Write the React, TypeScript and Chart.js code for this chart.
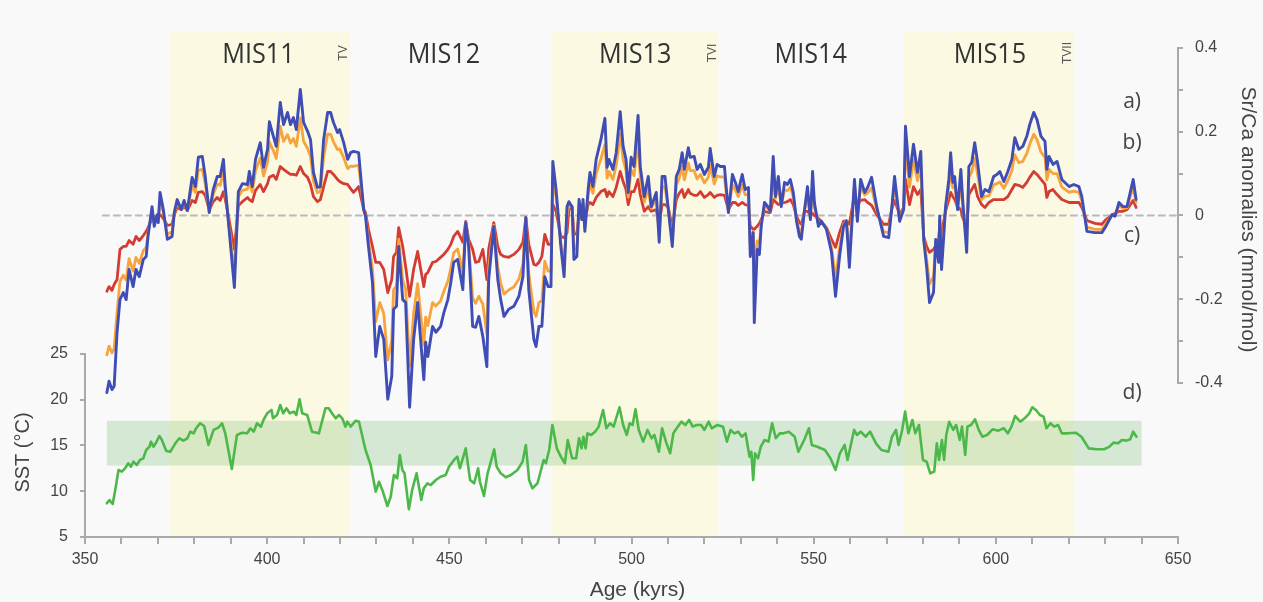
import { useEffect, useRef } from "react";
import { Chart, registerables } from "chart.js";

Chart.register(...registerables);

// ---- Sr/Ca anomaly records (mmol/mol) on a shared age axis (kyr) ----
const ageSrCa = [
  356.0, 356.6, 357.4, 358.0, 358.8, 359.6, 360.5, 361.3, 362.1, 363.2,
  364.0, 364.9, 366.0, 366.8, 367.3, 368.4, 369.0, 369.8, 370.1, 370.6,
  371.5, 372.6, 373.9, 374.5, 375.3, 376.4, 377.2, 378.1, 379.4, 380.3,
  381.1, 382.2, 383.0, 384.1, 385.2, 386.3, 387.1, 388.0, 388.5, 389.3,
  391.0, 392.1, 393.2, 394.6, 395.1, 395.9, 396.8, 398.1, 399.0, 400.1,
  400.6, 401.7, 402.5, 403.6, 404.5, 405.6, 406.4, 407.2, 408.0, 409.1,
  410.0, 411.1, 411.9, 412.7, 413.8, 414.6, 415.5, 416.6, 417.4, 418.2,
  419.3, 419.9, 421.0, 422.1, 422.9, 423.7, 425.1, 426.5,
  427.0, 427.8, 428.9, 429.8, 430.9, 432.0, 433.1, 434.2, 434.7, 435.5,
  436.1, 437.2, 438.0, 439.1, 440.2, 441.3, 443.0, 443.5, 444.1, 445.4,
  446.3, 447.6, 448.5, 449.6, 450.4, 451.2, 452.3, 453.7, 454.5, 455.3,
  456.4, 457.2, 458.1, 459.2, 460.3, 460.8, 462.2, 463.3, 464.1, 465.0,
  466.3, 467.7, 469.1, 470.2, 471.0, 471.8, 473.2, 473.8, 474.6, 475.4,
  476.2, 477.1, 477.9,
  478.4, 479.3, 480.6, 481.5, 482.3, 482.8, 483.7, 484.2, 485.0, 485.6,
  486.4, 486.7, 487.2, 488.1, 488.6, 489.4, 490.3, 491.6, 492.7, 493.3,
  493.8, 494.9, 495.8, 496.9, 497.7, 498.5, 499.1, 499.9, 500.7, 501.8,
  502.4, 503.5, 504.6, 505.4, 506.8, 507.6, 508.4, 509.2, 510.1, 511.2,
  512.3, 513.1, 513.9, 514.5, 515.6, 516.1, 517.2, 518.0, 518.9, 520.0,
  521.1, 521.6, 522.7, 523.5, 524.4, 525.5, 526.6, 527.7, 528.5, 529.3,
  530.4, 531.2, 532.1,
  532.6, 533.4, 533.7, 534.5, 535.1, 535.6, 536.5, 537.6, 538.1, 538.9,
  539.5, 540.3, 541.1, 542.0, 542.8, 543.6, 544.4, 545.3, 546.1, 546.6,
  547.5, 548.3, 549.1, 549.7, 550.2, 551.3, 552.1, 553.5, 554.9, 556.0,
  557.1, 558.2, 559.0, 559.8, 561.2, 562.0, 562.9, 564.0, 564.8, 565.9,
  567.3, 569.2, 570.6, 571.4, 572.2, 573.6, 574.7, 575.2, 576.3, 577.4,
  578.5, 579.4, 580.2, 581.0, 581.8, 582.9, 583.5, 584.3, 584.6, 585.1,
  585.7, 586.2, 587.1, 587.6, 588.2, 588.7, 589.5, 590.4, 590.9, 592.0,
  592.6, 593.4, 594.2, 595.0, 596.1, 597.0, 598.1, 599.4, 600.3, 601.1,
  602.2, 603.3, 604.4, 605.2, 606.3, 607.4, 608.5, 609.3, 610.4, 611.3,
  612.4, 613.5, 614.0, 614.6, 615.7, 616.8, 618.1, 620.1, 621.4, 622.8,
  623.6, 625.0, 627.2, 629.1, 630.2, 631.9, 632.7, 633.8, 634.9, 636.0,
  637.7, 638.5,
];

// a) blue record
const srcaA = [
  -0.423, -0.396, -0.416, -0.408, -0.279, -0.201, -0.184, -0.201, -0.129, -0.170,
  -0.129, -0.146, -0.105, -0.098, -0.050, 0.021, -0.026, 0.002, -0.017, 0.055,
  0.014, -0.057, -0.050, 0.007, 0.038, 0.014, 0.036, 0.012, 0.091, 0.069,
  0.139, 0.141, 0.093, 0.007, 0.062, 0.093, 0.093, 0.134, 0.069, -0.010,
  -0.172, 0.057, 0.076, 0.074, 0.105, 0.069, 0.134, 0.174, 0.115, 0.158,
  0.224, 0.189, 0.165, 0.270, 0.217, 0.246, 0.217, 0.234, 0.205, 0.301,
  0.222, 0.201, 0.181, 0.103, 0.067, 0.069, 0.181, 0.246, 0.246, 0.222,
  0.198, 0.205, 0.174, 0.134, 0.150, 0.153, 0.150, 0.014,
  -0.002, -0.074, -0.160, -0.337, -0.265, -0.296, -0.439, -0.384, -0.224, -0.217,
  -0.074, -0.201, -0.208, -0.458, -0.296, -0.208, -0.392, -0.303, -0.337, -0.265,
  -0.279, -0.265, -0.232, -0.201, -0.160, -0.112, -0.105, -0.177, -0.017, -0.074,
  -0.265, -0.267, -0.241, -0.289, -0.361, -0.153, -0.026, -0.153, -0.201, -0.241,
  -0.224, -0.217, -0.193, -0.146, -0.005, -0.177, -0.296, -0.313, -0.265, -0.265,
  -0.146, -0.170, -0.170,
  0.129, 0.062, -0.074, -0.146, 0.021, 0.033, 0.021, -0.105, -0.098, 0.038,
  -0.010, 0.038, -0.038, 0.062, 0.103, 0.069, 0.134, 0.181, 0.232, 0.115,
  0.134, 0.110, 0.150, 0.248, 0.165, 0.134, 0.055, 0.139, 0.117, 0.239,
  0.117, 0.045, 0.093, 0.021, 0.055, -0.064, 0.093, 0.093, 0.014, -0.074,
  0.093, 0.110, 0.150, 0.110, 0.162, 0.139, 0.141, 0.110, 0.122, 0.098,
  0.115, 0.160, 0.093, 0.122, 0.117, 0.117, 0.007, 0.098, 0.079, 0.057,
  0.098, 0.062, 0.067,
  -0.098, -0.041, -0.256, -0.081, -0.093, -0.026, 0.031, 0.019, 0.010, 0.141,
  0.045, 0.093, 0.021, 0.079, 0.074, 0.086, 0.055, -0.014, -0.050, -0.057,
  0.014, 0.069, -0.010, 0.105, 0.031, -0.026, -0.014, -0.033, -0.088, -0.193,
  -0.098, -0.026, -0.014, -0.124, 0.086, -0.014, 0.086, 0.055, 0.067, 0.091,
  0.021, -0.050, -0.053, 0.014, 0.093, -0.014, 0.014, 0.213, 0.093, 0.170,
  0.103, 0.153, -0.057, -0.122, -0.208, -0.184, -0.057, -0.112, -0.002, -0.129,
  -0.050, 0.021, 0.086, 0.150, 0.079, 0.093, 0.014, 0.110, 0.038, -0.088,
  0.117, 0.127, 0.174, 0.127, 0.045, 0.062, 0.057, 0.093, 0.098, 0.105,
  0.081, 0.105, 0.134, 0.186, 0.158, 0.165, 0.189, 0.217, 0.246, 0.229,
  0.189, 0.177, 0.110, 0.141, 0.122, 0.129, 0.086, 0.069, 0.074, 0.069,
  0.045, -0.038, -0.041, -0.041, -0.026, 0.002, -0.002, 0.031, 0.021, 0.021,
  0.086, 0.038,
];

// b) orange record
const srcaB = [
  -0.333, -0.312, -0.328, -0.318, -0.232, -0.157, -0.143, -0.154, -0.103, -0.133,
  -0.100, -0.114, -0.084, -0.076, -0.042, 0.011, -0.017, 0.000, -0.011, 0.035,
  0.007, -0.045, -0.039, 0.005, 0.031, 0.014, 0.031, 0.012, 0.071, 0.055,
  0.108, 0.110, 0.076, 0.010, 0.051, 0.075, 0.072, 0.106, 0.058, -0.005,
  -0.138, 0.045, 0.060, 0.063, 0.080, 0.056, 0.107, 0.137, 0.094, 0.128,
  0.175, 0.155, 0.136, 0.213, 0.177, 0.193, 0.173, 0.184, 0.165, 0.233,
  0.177, 0.160, 0.141, 0.082, 0.054, 0.058, 0.140, 0.194, 0.194, 0.176,
  0.157, 0.159, 0.138, 0.112, 0.118, 0.117, 0.120, 0.014,
  0.001, -0.059, -0.128, -0.254, -0.208, -0.234, -0.345, -0.298, -0.177, -0.169,
  -0.057, -0.154, -0.176, -0.360, -0.234, -0.163, -0.310, -0.243, -0.263, -0.208,
  -0.216, -0.204, -0.181, -0.157, -0.126, -0.089, -0.080, -0.135, -0.016, -0.068,
  -0.197, -0.210, -0.193, -0.212, -0.284, -0.126, -0.023, -0.124, -0.161, -0.188,
  -0.178, -0.171, -0.152, -0.116, -0.005, -0.137, -0.230, -0.241, -0.208, -0.203,
  -0.109, -0.133, -0.133,
  0.091, 0.043, -0.065, -0.112, -0.002, 0.026, 0.020, -0.083, -0.078, 0.025,
  -0.010, 0.029, -0.029, 0.049, 0.076, 0.053, 0.100, 0.135, 0.169, 0.089,
  0.105, 0.086, 0.119, 0.195, 0.134, 0.107, 0.044, 0.109, 0.095, 0.182,
  0.092, 0.032, 0.066, 0.017, 0.040, -0.048, 0.068, 0.068, 0.016, -0.057,
  0.073, 0.089, 0.117, 0.085, 0.125, 0.107, 0.107, 0.087, 0.098, 0.078,
  0.091, 0.121, 0.075, 0.095, 0.092, 0.092, 0.010, 0.073, 0.061, 0.045,
  0.073, 0.049, 0.051,
  -0.071, -0.038, -0.120, -0.061, -0.066, -0.020, 0.023, 0.015, 0.009, 0.103,
  0.041, 0.068, 0.024, 0.061, 0.059, 0.068, 0.044, -0.010, -0.038, -0.044,
  0.013, 0.047, -0.005, 0.068, 0.020, -0.019, -0.014, -0.031, -0.077, -0.150,
  -0.077, -0.022, -0.013, -0.086, 0.073, 0.001, 0.068, 0.049, 0.054, 0.066,
  0.014, -0.039, -0.041, 0.014, 0.072, -0.008, 0.016, 0.166, 0.068, 0.133,
  0.083, 0.119, -0.055, -0.104, -0.164, -0.146, -0.063, -0.092, -0.012, -0.098,
  -0.037, 0.017, 0.068, 0.115, 0.066, 0.073, 0.017, 0.074, 0.022, -0.065,
  0.092, 0.103, 0.137, 0.097, 0.038, 0.046, 0.047, 0.073, 0.076, 0.080,
  0.065, 0.083, 0.107, 0.145, 0.126, 0.129, 0.148, 0.170, 0.194, 0.181,
  0.151, 0.139, 0.085, 0.110, 0.100, 0.100, 0.068, 0.055, 0.058, 0.055,
  0.035, -0.028, -0.033, -0.033, -0.020, 0.001, 0.000, 0.023, 0.017, 0.018,
  0.068, 0.031,
];

// c) red record
const srcaC = [
  -0.181, -0.170, -0.179, -0.165, -0.153, -0.081, -0.074, -0.074, -0.060, -0.069,
  -0.050, -0.060, -0.048, -0.038, -0.029, -0.007, -0.002, -0.005, -0.002, 0.002,
  -0.007, -0.024, -0.021, 0.002, 0.019, 0.014, 0.021, 0.012, 0.036, 0.031,
  0.055, 0.057, 0.048, 0.014, 0.033, 0.043, 0.036, 0.057, 0.038, 0.002,
  -0.081, 0.024, 0.033, 0.043, 0.038, 0.033, 0.060, 0.074, 0.057, 0.076,
  0.091, 0.096, 0.086, 0.117, 0.110, 0.103, 0.098, 0.098, 0.096, 0.117,
  0.100, 0.091, 0.074, 0.045, 0.033, 0.038, 0.069, 0.105, 0.105, 0.098,
  0.086, 0.081, 0.076, 0.074, 0.064, 0.055, 0.069, 0.014,
  0.007, -0.033, -0.074, -0.112, -0.112, -0.129, -0.184, -0.153, -0.098, -0.088,
  -0.029, -0.074, -0.122, -0.193, -0.129, -0.086, -0.170, -0.141, -0.136, -0.112,
  -0.110, -0.100, -0.093, -0.081, -0.069, -0.050, -0.038, -0.064, -0.014, -0.057,
  -0.081, -0.112, -0.110, -0.081, -0.153, -0.081, -0.017, -0.074, -0.093, -0.098,
  -0.100, -0.093, -0.081, -0.064, -0.005, -0.069, -0.117, -0.119, -0.112, -0.098,
  -0.045, -0.069, -0.069,
  0.026, 0.010, -0.050, -0.053, -0.041, 0.014, 0.019, -0.045, -0.043, 0.002,
  -0.010, 0.014, -0.014, 0.026, 0.031, 0.026, 0.043, 0.057, 0.062, 0.045,
  0.057, 0.045, 0.067, 0.105, 0.081, 0.062, 0.026, 0.057, 0.057, 0.086,
  0.050, 0.010, 0.021, 0.010, 0.014, -0.021, 0.026, 0.026, 0.019, -0.029,
  0.038, 0.053, 0.062, 0.043, 0.062, 0.053, 0.048, 0.048, 0.057, 0.043,
  0.050, 0.055, 0.043, 0.048, 0.050, 0.048, 0.014, 0.031, 0.031, 0.024,
  0.031, 0.026, 0.024,
  -0.026, -0.033, -0.033, -0.026, -0.019, -0.010, 0.010, 0.007, 0.007, 0.038,
  0.033, 0.026, 0.029, 0.031, 0.033, 0.038, 0.026, -0.002, -0.017, -0.021,
  0.010, 0.010, 0.002, 0.005, 0.000, -0.007, -0.014, -0.029, -0.057, -0.076,
  -0.041, -0.014, -0.012, -0.021, 0.050, 0.026, 0.036, 0.038, 0.031, 0.024,
  0.002, -0.021, -0.021, 0.014, 0.036, 0.002, 0.019, 0.086, 0.026, 0.069,
  0.050, 0.062, -0.050, -0.074, -0.088, -0.081, -0.072, -0.057, -0.029, -0.045,
  -0.014, 0.010, 0.038, 0.055, 0.045, 0.038, 0.021, 0.014, -0.005, -0.026,
  0.050, 0.062, 0.074, 0.045, 0.026, 0.019, 0.031, 0.038, 0.038, 0.038,
  0.038, 0.045, 0.062, 0.074, 0.072, 0.067, 0.079, 0.091, 0.105, 0.098,
  0.086, 0.074, 0.043, 0.057, 0.062, 0.050, 0.038, 0.031, 0.031, 0.031,
  0.019, -0.012, -0.019, -0.021, -0.010, 0.000, 0.005, 0.010, 0.010, 0.014,
  0.036, 0.019,
];

// ---- d) sea surface temperature record (°C) ----
const ageSst = [
  356.0, 356.7, 357.6, 358.3, 359.2, 360.1, 361.0, 361.9, 362.6, 363.3,
  364.2, 365.1, 366.0, 366.8, 367.7, 368.1, 368.8, 369.4, 370.4, 371.1,
  372.3, 373.4, 374.8, 375.9, 377.0, 378.1, 378.9, 379.8, 380.5, 381.6,
  382.7, 383.9, 385.3, 386.7, 387.6, 388.5, 390.3, 391.7, 393.1, 394.5,
  395.4, 396.3, 397.2, 398.3, 399.0, 400.0, 401.2, 401.6, 402.7, 403.6,
  404.4, 405.3, 406.2, 407.3, 408.0, 408.9, 409.6, 411.0, 412.3, 414.2,
  416.0, 416.9, 417.8, 418.8, 419.7, 420.6, 421.5, 422.0, 422.9, 424.3,
  425.2, 427.0, 428.4, 429.8, 430.7, 431.6, 433.0, 433.9, 434.8, 435.7,
  436.4, 437.1, 437.7, 438.9, 439.8, 441.0, 442.3, 443.0, 444.0, 444.9,
  446.3, 447.6, 449.0, 449.9, 451.3, 452.2, 452.9, 454.5, 455.7, 456.8,
  457.9, 458.4, 459.5, 460.5, 461.4, 462.3, 463.0, 464.1, 465.5, 466.9,
  468.7, 470.1, 471.0, 471.9, 472.8, 474.2, 475.9, 476.5, 477.4, 478.3,
  479.5, 480.6, 481.7, 482.5, 483.7, 484.8, 485.6, 486.3, 486.8, 487.4,
  487.9, 488.9, 490.0, 491.0, 492.2, 493.1, 494.1, 495.1, 496.7, 497.7,
  498.7, 499.5, 500.3, 501.1, 502.0, 503.2, 504.4, 505.5, 506.3, 507.5,
  508.4, 509.6, 510.6, 511.5, 512.7, 513.7, 514.8, 515.8, 516.8, 517.9,
  519.1, 520.0, 521.2, 522.0, 523.6, 525.1, 526.2, 527.2, 528.2, 529.3,
  530.3, 531.3, 532.4, 532.9, 533.4, 533.9, 534.7, 535.5, 536.5, 537.6,
  538.6, 539.6, 540.7, 541.7, 543.2, 544.8, 545.8, 547.4, 548.7, 549.5,
  551.0, 553.1, 554.6, 556.0, 557.2, 558.5, 559.3, 560.3, 561.1, 561.9,
  562.9, 564.3, 565.5, 567.1, 568.6, 570.5, 571.5, 572.6, 573.3, 574.3,
  575.1, 576.0, 577.1, 577.9, 578.9, 580.0, 581.0, 582.0, 583.1, 583.8,
  584.4, 585.2, 585.8, 586.4, 587.2, 588.3, 589.1, 590.1, 590.7, 591.6,
  592.2, 593.2, 594.3, 595.3, 596.3, 597.6, 599.1, 600.7, 602.2, 603.3,
  604.3, 605.3, 606.7, 607.9, 609.2, 610.0, 611.0, 612.1, 613.1, 613.9,
  615.0, 616.0, 617.1, 618.1, 619.8, 621.9, 623.5, 625.5, 627.6, 629.7,
  631.2, 632.3, 633.6, 634.6, 635.9, 636.9, 637.7, 638.6,
];

const sst = [
  8.68, 9.04, 8.61, 10.14, 12.32, 12.14, 12.51, 13.06, 12.68, 13.23,
  12.87, 13.42, 13.60, 14.51, 14.87, 15.42, 14.87, 15.24, 16.04, 15.60,
  14.40, 14.32, 15.24, 15.79, 15.53, 15.79, 16.51, 16.33, 16.88, 17.43,
  17.13, 15.06, 16.70, 16.99, 17.43, 16.33, 12.43, 16.15, 16.40, 16.33,
  16.88, 16.51, 17.43, 17.06, 17.79, 18.52, 18.88, 17.97, 18.33, 19.43,
  18.52, 19.07, 18.52, 18.70, 18.33, 20.05, 18.52, 18.33, 16.51, 16.33,
  19.07, 19.07, 18.52, 17.97, 18.33, 17.97, 17.06, 17.60, 17.06, 17.71,
  17.60, 14.51, 12.87, 9.95, 11.04, 10.14, 8.39, 9.40, 11.78, 11.42,
  13.96, 12.32, 11.96, 8.03, 10.14, 11.96, 9.04, 10.32, 10.87, 10.68,
  11.23, 11.59, 11.78, 12.68, 13.42, 13.78, 12.51, 14.69, 11.23, 10.87,
  12.51, 11.04, 9.48, 11.96, 13.23, 14.59, 12.68, 11.96, 11.53, 11.78,
  12.32, 13.23, 15.06, 11.23, 10.32, 10.87, 13.42, 13.06, 14.51, 17.24,
  14.69, 13.78, 13.06, 15.60, 13.60, 13.60, 15.79, 14.69, 15.96, 14.69,
  16.33, 16.15, 16.51, 17.06, 18.88, 16.88, 17.43, 17.06, 19.18, 17.24,
  16.15, 17.43, 17.24, 18.96, 16.70, 15.42, 16.70, 15.79, 16.15, 14.32,
  16.88, 15.24, 14.15, 16.33, 17.06, 17.60, 17.24, 17.79, 17.06, 17.24,
  17.24, 16.70, 17.60, 16.88, 17.24, 17.06, 15.42, 16.70, 16.33, 16.51,
  15.96, 16.33, 13.78, 14.32, 11.23, 14.15, 13.60, 14.87, 15.60, 15.42,
  17.43, 15.79, 16.33, 16.33, 16.51, 15.96, 14.32, 15.60, 16.88, 15.06,
  14.87, 14.51, 13.60, 12.32, 14.15, 15.06, 13.42, 15.24, 16.70, 16.15,
  16.51, 15.96, 16.51, 15.24, 14.51, 14.32, 15.96, 16.70, 15.06, 16.70,
  18.70, 16.33, 17.79, 16.33, 17.24, 13.42, 13.23, 11.96, 12.14, 15.24,
  13.42, 15.60, 13.42, 16.15, 17.60, 16.70, 17.24, 15.60, 17.06, 13.96,
  17.06, 17.24, 17.86, 16.70, 15.96, 16.15, 16.77, 16.62, 16.88, 16.33,
  17.06, 18.22, 17.60, 17.97, 18.52, 19.18, 18.88, 18.33, 18.15, 16.88,
  17.43, 17.06, 17.24, 16.33, 16.33, 16.40, 15.96, 14.69, 14.59, 14.59,
  14.87, 15.31, 15.24, 15.60, 15.53, 15.68, 16.51, 15.96,
];

// Modern SST envelope shown behind the record
const sstEnvelopeAge = [356.0, 640.0];
const sstEnvelopeRange = [12.8, 17.7];

// Marine isotope stages (shaded = interglacials)
const misShadeStart = [373.3, 478.2, 574.8];
const misShadeEnd = [422.7, 523.8, 621.5];
const misNames = ["MIS11", "MIS12", "MIS13", "MIS14", "MIS15"];
const misLabelAge = [397.6, 448.5, 501.0, 549.2, 598.4];
const terminationNames = ["TV", "TVI", "TVII"];
const terminationAge = [421.0, 522.3, 619.7];

// Axis ticks
const sstTicks = [5, 10, 15, 20, 25];
const srcaTicks = [-0.4, -0.3, -0.2, -0.1, 0, 0.1, 0.2, 0.3, 0.4];
const zeroLineAge = [354.9, 650];

const FONT = "'Liberation Sans', Arial, Helvetica, sans-serif";
const SOFT_FONT = "'Open Sans', 'Liberation Sans', sans-serif";
const TEXT = "#444444";
const AXIS = "#a9a9a9";

function text(
  ctx: CanvasRenderingContext2D,
  s: string,
  x: number,
  y: number,
  font: string,
  rot = 0,
  sx = 1,
  color = TEXT
) {
  ctx.save();
  ctx.translate(x, y);
  ctx.rotate(rot);
  ctx.scale(sx, 1);
  ctx.font = font;
  ctx.fillStyle = color;
  ctx.textAlign = "center";
  ctx.textBaseline = "middle";
  ctx.fillText(s, 0, 0);
  ctx.restore();
}

const decorations = {
  id: "decorations",
  beforeDraw(chart: any) {
    const { ctx, chartArea: a, scales } = chart;
    const x = scales.x;
    const yS = scales.ySst;
    ctx.save();
    ctx.fillStyle = "#f9f9f9";
    ctx.fillRect(0, 0, chart.width, chart.height);
    // interglacial stage shading
    ctx.fillStyle = "#fbf9e2";
    misShadeStart.forEach((s, i) => {
      const x0 = x.getPixelForValue(s);
      const x1 = x.getPixelForValue(misShadeEnd[i]);
      ctx.fillRect(x0, a.top, x1 - x0, a.bottom - a.top);
    });
    // SST envelope
    const ex0 = x.getPixelForValue(sstEnvelopeAge[0]);
    const ex1 = x.getPixelForValue(sstEnvelopeAge[1]);
    const ey0 = yS.getPixelForValue(sstEnvelopeRange[1]);
    const ey1 = yS.getPixelForValue(sstEnvelopeRange[0]);
    ctx.fillStyle = "rgba(120,190,112,0.27)";
    ctx.fillRect(ex0, ey0, ex1 - ex0, ey1 - ey0);
    ctx.restore();
  },
  afterDraw(chart: any) {
    const { ctx, chartArea: a, scales } = chart;
    const x = scales.x;
    const yS = scales.ySst;
    const yR = scales.ySr;
    ctx.save();
    ctx.strokeStyle = AXIS;
    ctx.lineWidth = 2;
    ctx.lineCap = "butt";
    // left SST axis line (5–25 °C only)
    ctx.beginPath();
    ctx.moveTo(a.left, yS.getPixelForValue(sstTicks[sstTicks.length - 1]) - 1);
    ctx.lineTo(a.left, a.bottom);
    ctx.stroke();
    // right Sr/Ca axis line (-0.4–0.4 only)
    ctx.beginPath();
    ctx.moveTo(a.right, yR.getPixelForValue(0.4) - 1);
    ctx.lineTo(a.right, yR.getPixelForValue(-0.4) + 1);
    ctx.stroke();
    ctx.restore();

    // axis titles
    const sstMid = (yS.getPixelForValue(5) + yS.getPixelForValue(25)) / 2 + 7;
    text(ctx, "SST (°C)", 23, sstMid, `20px ${FONT}`, -Math.PI / 2);
    const srMid = (yR.getPixelForValue(0.4) + yR.getPixelForValue(-0.4)) / 2 + 4;
    text(ctx, "Sr/Ca anomalies (mmol/mol)", 1248, srMid, `21px ${FONT}`, Math.PI / 2);
    text(ctx, "Age (kyrs)", (a.left + a.right) / 2 + 6, 590, `21px ${FONT}`);

    // stage names and terminations
    misNames.forEach((n, i) => {
      text(ctx, n, x.getPixelForValue(misLabelAge[i]), 55, `28px ${SOFT_FONT}`, 0, 0.9, "#333333");
    });
    terminationNames.forEach((n, i) => {
      text(ctx, n, x.getPixelForValue(terminationAge[i]), 53, `12px ${FONT}`, -Math.PI / 2, 1, "#555555");
    });

    // record letters
    const lx = x.getPixelForValue(637.4);
    text(ctx, "a)", lx, yR.getPixelForValue(0.272), `21px ${SOFT_FONT}`);
    text(ctx, "b)", lx, yR.getPixelForValue(0.174), `21px ${SOFT_FONT}`);
    text(ctx, "c)", lx, yR.getPixelForValue(-0.05), `21px ${SOFT_FONT}`);
    text(ctx, "d)", lx, yS.getPixelForValue(20.74), `21px ${SOFT_FONT}`);
  },
};

export default function App() {
  const ref = useRef<HTMLCanvasElement>(null);

  useEffect(() => {
    const canvas = ref.current;
    if (!canvas) return;

    const pts = (ages: number[], vals: number[]) =>
      vals.slice(0, Math.min(ages.length, vals.length)).map((v, i) => ({ x: ages[i], y: v }));

    const chart = new Chart(canvas, {
      type: "line",
      data: {
        datasets: [
          {
            label: "a)",
            data: pts(ageSrCa, srcaA),
            yAxisID: "ySr",
            borderColor: "#3f4db5",
            borderWidth: 2.9,
          },
          {
            label: "b)",
            data: pts(ageSrCa, srcaB),
            yAxisID: "ySr",
            borderColor: "#f7a43c",
            borderWidth: 2.8,
          },
          {
            label: "c)",
            data: pts(ageSrCa, srcaC),
            yAxisID: "ySr",
            borderColor: "#d33c32",
            borderWidth: 2.8,
          },
          {
            label: "d)",
            data: pts(ageSst, sst),
            yAxisID: "ySst",
            borderColor: "#4db84a",
            borderWidth: 2.6,
          },
          {
            label: "zero",
            data: zeroLineAge.map((v) => ({ x: v, y: 0 })),
            yAxisID: "ySr",
            borderColor: "#b9b9b9",
            borderWidth: 2,
            borderDash: [6, 5],
            clip: false as any,
          },
        ] as any,
      },
      options: {
        responsive: false,
        animation: false,
        devicePixelRatio: 1,
        layout: { padding: { top: 31, left: 0, right: 0, bottom: 0 } },
        elements: {
          point: { radius: 0, hoverRadius: 0 },
          line: { tension: 0, borderJoinStyle: "round", borderCapStyle: "round", fill: false },
        },
        plugins: {
          legend: { display: false },
          tooltip: { enabled: false },
        },
        events: [],
        scales: {
          x: {
            type: "linear",
            position: "bottom",
            min: 350,
            max: 650,
            afterFit: (s: any) => {
              s.height = 65;
            },
            ticks: {
              stepSize: 10,
              autoSkip: false,
              maxRotation: 0,
              padding: 6,
              color: TEXT,
              font: { size: 16, family: FONT },
              callback: (v: any) => (Number(v) % 50 === 0 ? String(v) : ""),
            },
            grid: {
              display: true,
              drawOnChartArea: false,
              drawTicks: true,
              tickLength: 7,
              color: AXIS,
              lineWidth: 2,
            },
            border: { display: true, color: AXIS, width: 2 },
          },
          ySst: {
            type: "linear",
            position: "left",
            min: 5,
            max: 60.3,
            afterFit: (s: any) => {
              s.width = 85;
            },
            afterBuildTicks: (s: any) => {
              s.ticks = sstTicks.map((v) => ({ value: v }));
            },
            ticks: {
              padding: 12,
              color: TEXT,
              font: { size: 16, family: FONT },
              callback: (v: any) => String(v),
            },
            grid: {
              display: true,
              drawOnChartArea: false,
              drawTicks: true,
              tickLength: 5,
              color: AXIS,
              lineWidth: 2,
            },
            border: { display: false },
          },
          ySr: {
            type: "linear",
            position: "right",
            min: -0.768,
            max: 0.4406,
            afterFit: (s: any) => {
              s.width = 85;
            },
            afterBuildTicks: (s: any) => {
              s.ticks = srcaTicks.map((v) => ({ value: v }));
            },
            ticks: {
              padding: 12,
              color: TEXT,
              font: { size: 16, family: FONT },
              callback: (v: any) => {
                const i = Math.round(Number(v) * 10);
                if (i % 2 !== 0) return "";
                return i === 0 ? "0" : (i / 10).toFixed(1);
              },
            },
            grid: {
              display: true,
              drawOnChartArea: false,
              drawTicks: true,
              tickLength: 5,
              color: AXIS,
              lineWidth: 2,
            },
            border: { display: false },
          },
        },
      } as any,
      plugins: [decorations],
    });

    return () => chart.destroy();
  }, []);

  return (
    <div
      style={{
        position: "absolute",
        left: 0,
        top: 0,
        width: 1263,
        height: 602,
        background: "#f9f9f9",
      }}
    >
      <canvas ref={ref} width={1263} height={602} style={{ display: "block", width: 1263, height: 602 }} />
    </div>
  );
}
